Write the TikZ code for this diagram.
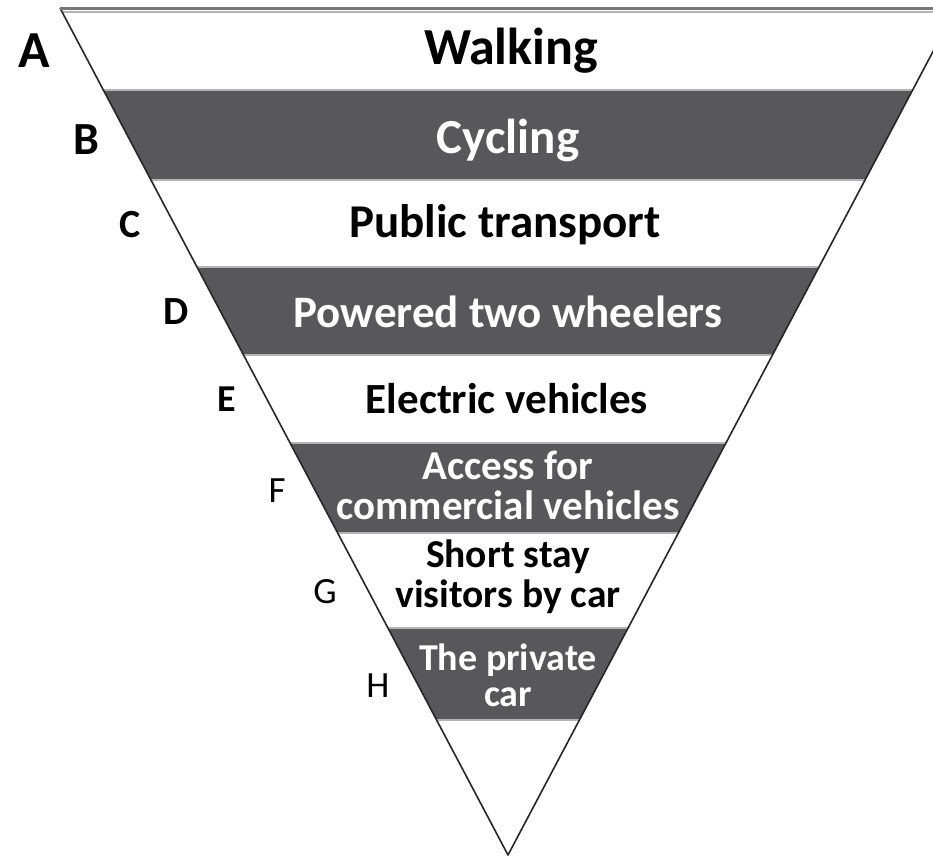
\documentclass[tikz,border=0pt]{standalone}
\usepackage{fontspec}
\setmainfont{Carlito}
\definecolor{bandgray}{HTML}{58585A}
\definecolor{edgegray}{HTML}{777777}
\definecolor{seamgray}{HTML}{B4B4B4}
\newcommand{\fsz}[1]{\fontsize{#1}{#1}\selectfont}
\begin{document}
\begin{tikzpicture}[x=1pt,y=-1pt,
  bandtxt/.style={font=\bfseries, inner sep=0pt, align=center},
  ondark/.style={bandtxt, text=white},
  onlight/.style={bandtxt, text=black},
  lettr/.style={text=black, inner sep=0pt},
  band/.style={fill=bandgray},
  seam/.style={draw=seamgray, line width=2.5pt}]
\useasboundingbox (0,0) rectangle (933,857);
\clip (0,0) rectangle (933,857);
\begin{scope}
  \clip (60,8) -- (956,8) -- (508,855) -- cycle;
  \fill[white] (0,0) rectangle (960,860);
  \fill[band] (0,90) rectangle (960,180);
  \fill[band] (0,267) rectangle (960,355);
  \fill[band] (0,443) rectangle (960,533);
  \fill[band] (0,628) rectangle (960,720);
  \foreach \yy in {90,180,267,355,443,533,628,720}
    \draw[seam] (0,\yy) -- (960,\yy);
  \draw[seam] (0,12) -- (960,12);
\end{scope}
\coordinate (tl) at (60,8);
\coordinate (tr) at (956,8);
\coordinate (apex) at (508,855);
\draw[black!85, line width=1.6pt, line join=round] (tl) -- (apex) -- (tr);
\draw[edgegray, line width=3pt] (tl) -- (tr);
% band texts
\node[onlight, font=\bfseries\fsz{52}] (walk) at (511,51) {Walking};
\node[ondark, font=\bfseries\fsz{49}] (cyc) at (508,140) {Cycling};
\node[onlight, font=\bfseries\fsz{47}] (pub) at (505,225) {Public transport};
\node[ondark, font=\bfseries\fsz{45}] (ptw) at (508,312) {Powered two wheelers};
\node[onlight, font=\bfseries\fsz{43}] (ev) at (507,399) {Electric vehicles};
\node[ondark, font=\bfseries\fontsize{41}{40}\selectfont] (acc) at (508,485) {Access for\\commercial vehicles};
\node[onlight, font=\bfseries\fontsize{39.5}{40}\selectfont] (ssv) at (508,577) {Short stay\\visitors by car};
\node[ondark, font=\bfseries\fontsize{38}{36}\selectfont] (car) at (508,675) {The private\\car};
% letters
\node[lettr, font=\bfseries\fsz{52}] (la) at (34,51) {A};
\node[lettr, font=\bfseries\fsz{46}] (lb) at (86,140) {B};
\node[lettr, font=\bfseries\fsz{40}] (lc) at (130,225) {C};
\node[lettr, font=\bfseries\fsz{40}] (ld) at (176,312) {D};
\node[lettr, font=\bfseries\fsz{38}] (le) at (227,399) {E};
\node[lettr, font=\fsz{37}] (lf) at (277,491) {F};
\node[lettr, font=\fsz{37}] (lg) at (325,592) {G};
\node[lettr, font=\fsz{37}] (lh) at (378,686) {H};
\end{tikzpicture}
\end{document}
